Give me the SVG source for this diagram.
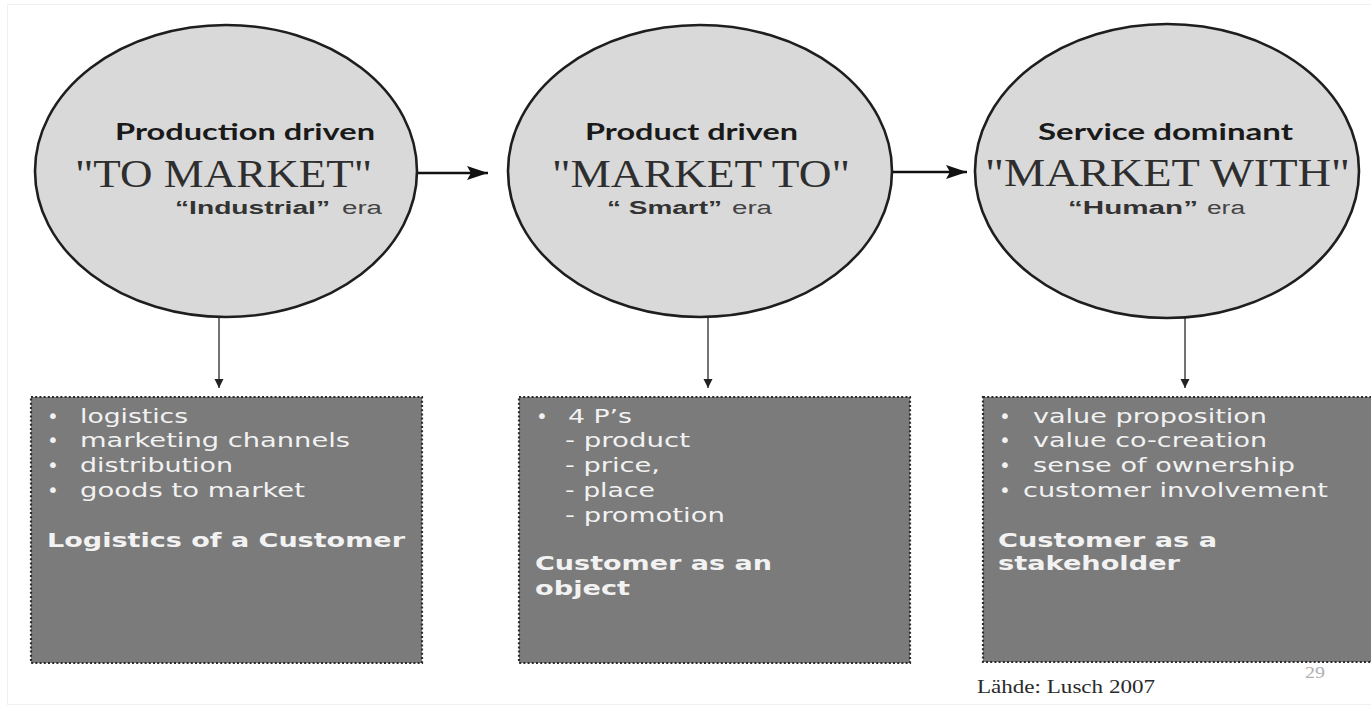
<svg xmlns="http://www.w3.org/2000/svg" width="1371" height="705" viewBox="0 0 1371 705">
<style>
.ell{fill:#d9d9d9;stroke:#1e1e1e;stroke-width:2.6}
.box{fill:#7b7b7b;stroke:#2a2a2a;stroke-width:2.2;stroke-dasharray:2 2.2}
.h1{font-family:Lato,"Open Sans",sans-serif;font-weight:700;font-size:22px;fill:#1a1a1a}
.big{font-family:"Liberation Serif","DejaVu Serif",serif;font-size:41px;fill:#2e2e2e}
.era{font-family:"Liberation Sans",Arial,sans-serif;font-size:18px;fill:#444}
.erab{font-weight:700;fill:#333}
.bt{font-family:"DejaVu Sans",Verdana,sans-serif;font-size:20px;fill:#f2f2f2}
.bb{font-weight:700}
.hc{stroke:#111;stroke-width:2.6;fill:none}
.vc{stroke:#444;stroke-width:1.5;fill:none}
</style>
<defs>
<marker id="ah" markerUnits="userSpaceOnUse" markerWidth="22" markerHeight="14" refX="21" refY="7" orient="auto">
<path d="M0,0 L21,7 L0,14 L4,7 Z" fill="#111"/>
</marker>
<marker id="as" markerUnits="userSpaceOnUse" markerWidth="10" markerHeight="10" refX="9" refY="5" orient="auto">
<path d="M0,0.5 L9,5 L0,9.5 Z" fill="#222"/>
</marker>
</defs>
<rect x="0" y="0" width="1371" height="705" fill="#ffffff"/>
<rect x="7.5" y="4.5" width="1370" height="700" fill="none" stroke="#f0f0f0" stroke-width="1"/>

<g id="connectors">
<line class="hc" x1="417" y1="173" x2="488" y2="173" marker-end="url(#ah)"/>
<line class="hc" x1="893" y1="172" x2="967" y2="172" marker-end="url(#ah)"/>
<line class="vc" x1="219" y1="311" x2="219" y2="388" marker-end="url(#as)"/>
<line class="vc" x1="708" y1="311" x2="708" y2="388" marker-end="url(#as)"/>
<line class="vc" x1="1185" y1="311" x2="1185" y2="388" marker-end="url(#as)"/>
</g>

<g id="ellipse-production">
<ellipse class="ell" cx="226" cy="171" rx="191" ry="146"/>
<text class="h1" x="115" y="140" textLength="260" lengthAdjust="spacingAndGlyphs">Production driven</text>
<text class="big" x="75" y="187" textLength="297" lengthAdjust="spacingAndGlyphs">"TO MARKET"</text>
<text class="era erab" x="175" y="214" textLength="155" lengthAdjust="spacingAndGlyphs">“Industrial”</text>
<text class="era" x="342" y="214" textLength="40" lengthAdjust="spacingAndGlyphs">era</text>
</g>

<g id="ellipse-product">
<ellipse class="ell" cx="700" cy="171" rx="192" ry="146"/>
<text class="h1" x="585" y="140" textLength="213" lengthAdjust="spacingAndGlyphs">Product driven</text>
<text class="big" x="552" y="187" textLength="298" lengthAdjust="spacingAndGlyphs">"MARKET TO"</text>
<text class="era erab" x="607" y="214" textLength="115" lengthAdjust="spacingAndGlyphs">“ Smart”</text>
<text class="era" x="732" y="214" textLength="40" lengthAdjust="spacingAndGlyphs">era</text>
</g>

<g id="ellipse-service">
<ellipse class="ell" cx="1167" cy="171" rx="192" ry="147"/>
<text class="h1" x="1038" y="140" textLength="255" lengthAdjust="spacingAndGlyphs">Service dominant</text>
<text class="big" x="985" y="186" textLength="365" lengthAdjust="spacingAndGlyphs">"MARKET WITH"</text>
<text class="era erab" x="1068" y="214" textLength="130" lengthAdjust="spacingAndGlyphs">“Human”</text>
<text class="era" x="1207" y="214" textLength="38" lengthAdjust="spacingAndGlyphs">era</text>
</g>

<g id="box-logistics">
<rect class="box" x="31" y="397" width="391" height="266"/>
<text class="bt" x="47" y="423">•</text>
<text class="bt" x="47" y="447">•</text>
<text class="bt" x="47" y="472">•</text>
<text class="bt" x="47" y="497">•</text>
<text class="bt" x="80" y="423" textLength="108" lengthAdjust="spacingAndGlyphs">logistics</text>
<text class="bt" x="80" y="447" textLength="270" lengthAdjust="spacingAndGlyphs">marketing channels</text>
<text class="bt" x="80" y="472" textLength="153" lengthAdjust="spacingAndGlyphs">distribution</text>
<text class="bt" x="80" y="497" textLength="225" lengthAdjust="spacingAndGlyphs">goods to market</text>
<text class="bt bb" x="47" y="547" textLength="358" lengthAdjust="spacingAndGlyphs">Logistics of a Customer</text>
</g>

<g id="box-4ps">
<rect class="box" x="519" y="397" width="391" height="266"/>
<text class="bt" x="536" y="423">•</text>
<text class="bt" x="568" y="423" textLength="64" lengthAdjust="spacingAndGlyphs">4 P’s</text>
<text class="bt" x="565" y="447" textLength="125" lengthAdjust="spacingAndGlyphs">- product</text>
<text class="bt" x="565" y="472" textLength="95" lengthAdjust="spacingAndGlyphs">- price,</text>
<text class="bt" x="565" y="497" textLength="90" lengthAdjust="spacingAndGlyphs">- place</text>
<text class="bt" x="565" y="522" textLength="160" lengthAdjust="spacingAndGlyphs">- promotion</text>
<text class="bt bb" x="535" y="570" textLength="237" lengthAdjust="spacingAndGlyphs">Customer as an</text>
<text class="bt bb" x="535" y="595" textLength="95" lengthAdjust="spacingAndGlyphs">object</text>
</g>

<g id="box-stakeholder">
<rect class="box" x="983" y="397" width="395" height="265"/>
<text class="bt" x="999" y="423">•</text>
<text class="bt" x="999" y="447">•</text>
<text class="bt" x="999" y="472">•</text>
<text class="bt" x="999" y="497">•</text>
<text class="bt" x="1033" y="423" textLength="234" lengthAdjust="spacingAndGlyphs">value proposition</text>
<text class="bt" x="1033" y="447" textLength="234" lengthAdjust="spacingAndGlyphs">value co-creation</text>
<text class="bt" x="1033" y="472" textLength="262" lengthAdjust="spacingAndGlyphs">sense of ownership</text>
<text class="bt" x="1023" y="497" textLength="305" lengthAdjust="spacingAndGlyphs">customer involvement</text>
<text class="bt bb" x="998" y="547" textLength="219" lengthAdjust="spacingAndGlyphs">Customer as a</text>
<text class="bt bb" x="998" y="570" textLength="182" lengthAdjust="spacingAndGlyphs">stakeholder</text>
</g>

<g id="footer">
<text x="1305" y="678" font-family="Liberation Serif, serif" font-size="17" fill="#b0b0b0" textLength="20" lengthAdjust="spacingAndGlyphs">29</text>
<text x="977" y="693" font-family="Liberation Serif, serif" font-size="19" fill="#2a2a2a" textLength="178" lengthAdjust="spacingAndGlyphs">Lähde: Lusch 2007</text>
</g>
</svg>
